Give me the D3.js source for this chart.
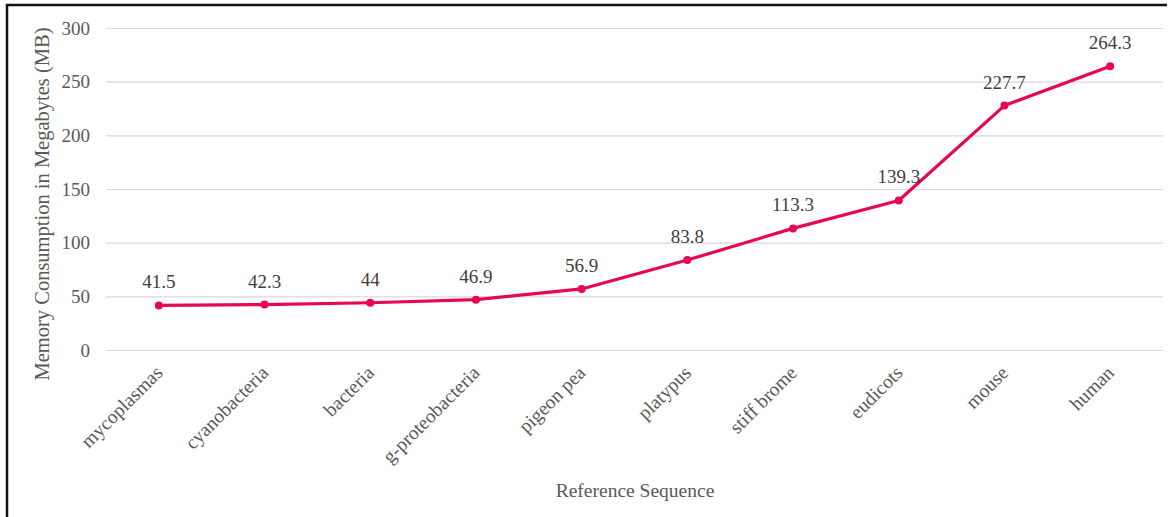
<!DOCTYPE html>
<html>
<head>
<meta charset="utf-8">
<script src="https://cdn.jsdelivr.net/npm/d3@7"></script>
<style>
  html, body { margin: 0; padding: 0; background: #fff; }
  svg { display: block; font-family: "Liberation Serif", "DejaVu Serif", serif; }
</style>
</head>
<body>
<svg id="chart" width="1176" height="517"></svg>
<script>
// Memory use per reference sequence (MB)
const categories = ["mycoplasmas", "cyanobacteria", "bacteria", "g-proteobacteria", "pigeon pea",
                    "platypus", "stiff brome", "eudicots", "mouse", "human"];
const memoryMB = [41.5, 42.3, 44, 46.9, 56.9, 83.8, 113.3, 139.3, 227.7, 264.3];
const yTicks = [0, 50, 100, 150, 200, 250, 300];

const svg = d3.select("#chart");
const W = 1176, H = 517;
const plot = { left: 106, right: 1163, top: 28, bottom: 350 };

// chart frame edges
svg.append("line").attr("x1", 7).attr("x2", 7).attr("y1", 4).attr("y2", H)
  .attr("stroke", "#111").attr("stroke-width", 2.5);
svg.append("line").attr("x1", 6).attr("x2", 1167).attr("y1", 5).attr("y2", 5)
  .attr("stroke", "#111").attr("stroke-width", 2.5);

const x = d3.scaleBand().domain(categories).range([plot.left, plot.right]);
const y = d3.scaleLinear().domain([0, 300]).range([plot.bottom, plot.top]);
const cx = d => x(d) + x.bandwidth() / 2;

// horizontal gridlines + y tick labels
const yAxis = d3.axisLeft(y).tickValues(yTicks).tickSize(-(plot.right - plot.left)).tickPadding(16);
const gy = svg.append("g").attr("transform", `translate(${plot.left},0)`).call(yAxis);
gy.select(".domain").remove();
gy.selectAll(".tick line").attr("stroke", "#d9d9d9").attr("stroke-width", 1.2);
gy.selectAll(".tick text").attr("fill", "#595959").attr("font-size", 19)
  .attr("font-family", "Liberation Serif, serif");

// category labels, rotated
const xAxis = d3.axisBottom(x).tickSize(0).tickPadding(0);
const gx = svg.append("g").attr("transform", `translate(0,${plot.bottom})`).call(xAxis);
gx.select(".domain").remove();
gx.selectAll(".tick text")
  .attr("fill", "#595959").attr("font-size", 19.5)
  .attr("font-family", "Liberation Serif, serif")
  .attr("text-anchor", "end")
  .attr("dy", 0)
  .attr("transform", "translate(5,24) rotate(-45)");

// line series
const line = d3.line().x((d, i) => cx(categories[i])).y(d => y(d));
svg.append("path").datum(memoryMB).attr("d", line)
  .attr("fill", "none").attr("stroke", "#e8084f").attr("stroke-width", 3.2)
  .attr("stroke-linejoin", "round");

svg.selectAll("circle.pt").data(memoryMB).join("circle").attr("class", "pt")
  .attr("cx", (d, i) => cx(categories[i])).attr("cy", d => y(d)).attr("r", 4)
  .attr("fill", "#e8084f");

// value labels
svg.selectAll("text.val").data(memoryMB).join("text").attr("class", "val")
  .attr("x", (d, i) => cx(categories[i])).attr("y", d => y(d) - 17)
  .attr("text-anchor", "middle").attr("font-size", 19).attr("fill", "#404040")
  .text(d => d);

// axis titles
svg.append("text").attr("x", 635).attr("y", 497).attr("text-anchor", "middle")
  .attr("font-size", 19.5).attr("fill", "#595959").text("Reference Sequence");
svg.append("text").attr("transform", `translate(49,204) rotate(-90)`)
  .attr("text-anchor", "middle").attr("font-size", 20.5).attr("fill", "#595959")
  .text("Memory Consumption in Megabytes (MB)");
</script>
</body>
</html>
